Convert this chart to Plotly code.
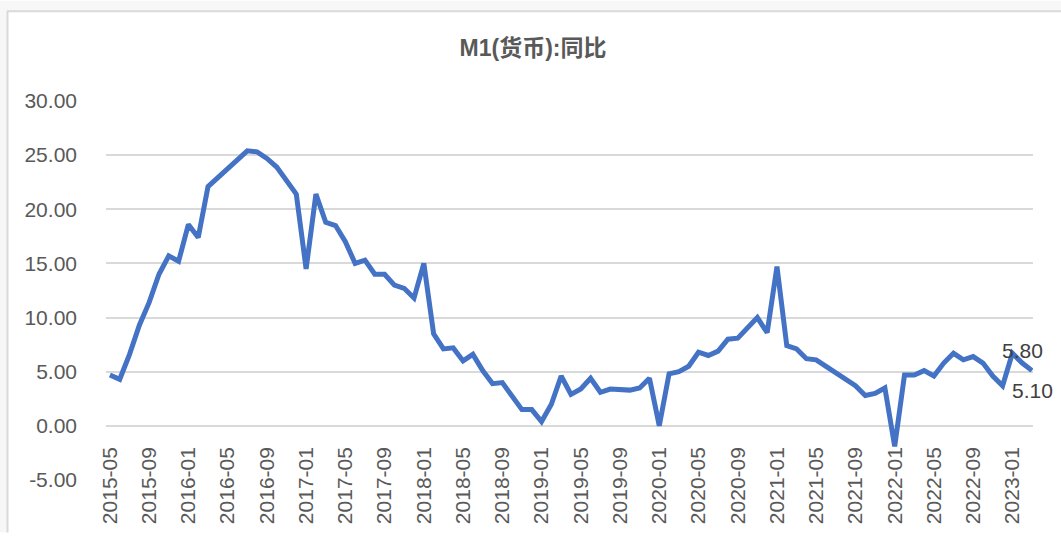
import pandas as pd
import plotly.graph_objects as go

# Monthly categories, May 2015 through March 2023
months = [p.strftime("%Y-%m") for p in pd.period_range("2015-05", "2023-03", freq="M")]

# M1 year-on-year growth (%)
m1_yoy = [
    4.7, 4.3, 6.6, 9.3, 11.4, 14.0, 15.7, 15.2,                          # 2015
    18.6, 17.4, 22.1, 22.9, 23.7, 24.6, 25.4, 25.3, 24.7, 23.9, 22.7, 21.4,  # 2016
    14.5, 21.4, 18.8, 18.5, 17.0, 15.0, 15.3, 14.0, 14.0, 13.0, 12.7, 11.8,  # 2017
    15.0, 8.5, 7.1, 7.2, 6.0, 6.6, 5.1, 3.9, 4.0, 2.7, 1.5, 1.5,             # 2018
    0.4, 2.0, 4.6, 2.9, 3.4, 4.4, 3.1, 3.4, 3.4, 3.3, 3.5, 4.4,              # 2019
    0.0, 4.8, 5.0, 5.5, 6.8, 6.5, 6.9, 8.0, 8.1, 9.1, 10.0, 8.6,             # 2020
    14.7, 7.4, 7.1, 6.2, 6.1, 5.5, 4.9, 4.2, 3.7, 2.8, 3.0, 3.5,             # 2021
    -1.9, 4.7, 4.7, 5.1, 4.6, 5.8, 6.7, 6.1, 6.4, 5.8, 4.6, 3.7,             # 2022
    6.7, 5.8, 5.1,                                                        # 2023
]

# Axis ticks
y_ticks = [-5, 0, 5, 10, 15, 20, 25, 30]
y_tick_text = ["-5.00", "0.00", "5.00", "10.00", "15.00", "20.00", "25.00", "30.00"]
x_tick_labels = months[::4]

W, H = 1061, 536
L, R, T, B = 106, 28, 101, 53
PW, PH = W - L - R, H - T - B

def px_x(x):
    return (x - L) / PW

def px_y(y):
    return (H - B - y) / PH

LINE_BLUE = "#4472C4"
TEXT_GRAY = "#595959"
GRID = "#d9d9d9"
FONT = "Liberation Sans, Noto Sans CJK SC, sans-serif"

fig = go.Figure()
fig.add_trace(go.Scatter(
    x=months,
    y=m1_yoy,
    mode="lines",
    line=dict(color=LINE_BLUE, width=5, shape="linear"),
    cliponaxis=False,
    hoverinfo="x+y",
    showlegend=False,
))

# Value labels on the last two points: one above, one below
label_font = dict(family=FONT, size=21, color="#404040")
annotations = [
    dict(x=months[-2], y=m1_yoy[-2], xref="x", yref="y",
         text=f"{m1_yoy[-2]:.2f}", showarrow=False,
         yshift=13, font=label_font),
    dict(x=months[-1], y=m1_yoy[-1], xref="x", yref="y",
         text=f"{m1_yoy[-1]:.2f}", showarrow=False,
         yshift=-20, font=label_font),
]

# Chart-area frame: grey band on top and left, thin border line
frame_fill = "#f7f7f7"
shapes = [
    dict(type="rect", xref="paper", yref="paper",
         x0=px_x(0), x1=px_x(W), y0=px_y(10), y1=px_y(0),
         fillcolor=frame_fill, line=dict(width=0), layer="below"),
    dict(type="rect", xref="paper", yref="paper",
         x0=px_x(0), x1=px_x(7), y0=px_y(H), y1=px_y(10),
         fillcolor=frame_fill, line=dict(width=0), layer="below"),
    dict(type="line", xref="paper", yref="paper",
         x0=px_x(7), x1=px_x(W), y0=px_y(10.5), y1=px_y(10.5),
         line=dict(color=GRID, width=2)),
    dict(type="line", xref="paper", yref="paper",
         x0=px_x(7.5), x1=px_x(7.5), y0=px_y(H), y1=px_y(10.5),
         line=dict(color=GRID, width=2)),
]

fig.update_layout(
    width=W, height=H,
    margin=dict(l=L, r=R, t=T, b=B),
    paper_bgcolor="white",
    plot_bgcolor="white",
    title=dict(
        text="<b>M1(货币):同比</b>",
        x=533 / W, xref="container", xanchor="center",
        y=1 - 48 / H, yref="container", yanchor="middle",
        font=dict(family=FONT, size=23, color=TEXT_GRAY),
    ),
    shapes=shapes,
    annotations=annotations,
    xaxis=dict(
        type="category",
        range=[-0.4, len(months) - 1 + 0.1],
        tickmode="array",
        tickvals=x_tick_labels,
        ticktext=x_tick_labels,
        tickangle=-90,
        tickfont=dict(family=FONT, size=21, color=TEXT_GRAY),
        showgrid=False,
        zeroline=False,
        showline=False,
        ticks="",
        anchor="free",
        position=5 / 35,
        ticklabelstandoff=16,
    ),
    yaxis=dict(
        range=[-5, 30],
        domain=[0, 1],
        tickmode="array",
        tickvals=y_ticks,
        ticktext=y_tick_text,
        tickfont=dict(family=FONT, size=21, color=TEXT_GRAY),
        showgrid=True,
        gridcolor=GRID,
        gridwidth=1.5,
        zeroline=False,
        showline=False,
        ticks="",
        ticklabelstandoff=28,
    ),
)

fig.write_html("out.html")
